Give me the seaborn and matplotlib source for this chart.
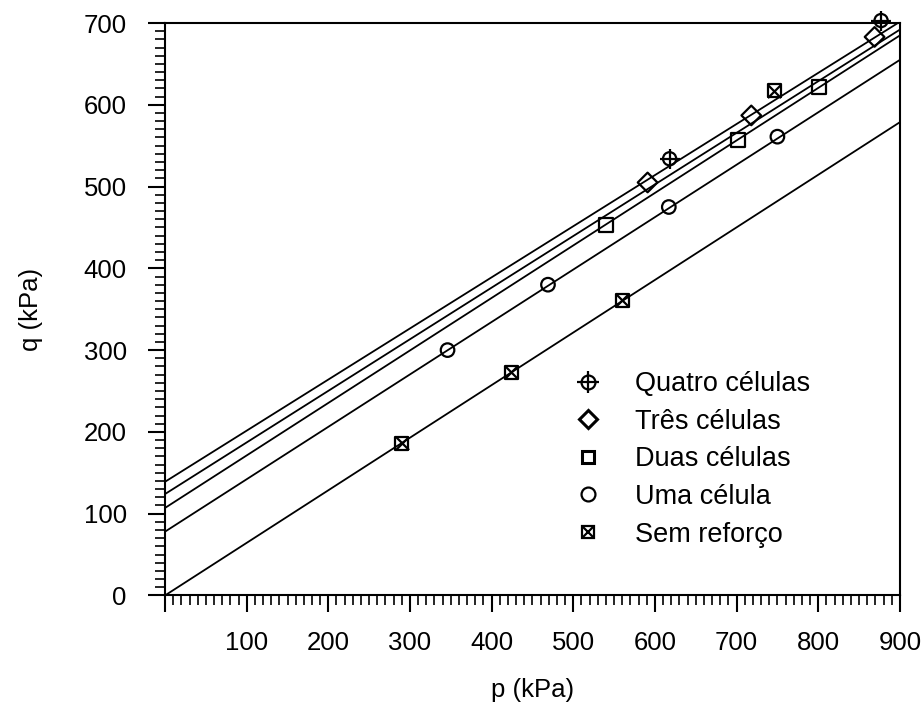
import numpy as np
import pandas as pd
import matplotlib
matplotlib.use("Agg")
import matplotlib.pyplot as plt
import seaborn as sns
from matplotlib.lines import Line2D
from matplotlib.ticker import MultipleLocator

sns.set_style("ticks", {"text.color": "black", "axes.labelcolor": "black",
                        "xtick.color": "black", "ytick.color": "black",
                        "axes.edgecolor": "black"})
plt.rcParams['font.family'] = ['Liberation Sans', 'DejaVu Sans']

# data
quatro_p = [618, 877]
quatro_q = [534, 703]
tres_p = [591, 718, 869]
tres_q = [505, 587, 683]
duas_p = [540, 702, 801]
duas_q = [453, 557, 622]
uma_p = [346, 469, 617, 750]
uma_q = [300, 380, 475, 561]
sem_p = [290, 424, 560, 746]
sem_q = [186, 273, 361, 617]

# envelope lines (intercept, slope)
names = ["Quatro células", "Três células", "Duas células", "Uma célula", "Sem reforço"]
intercepts = [139, 124, 107, 78, 0]
slopes = [0.625, 0.631, 0.642, 0.641, 0.643]

fs = 18.5

fig, ax = plt.subplots(figsize=(9.22, 7.08), dpi=100)
fig.subplots_adjust(left=0.179, right=0.976, bottom=0.159, top=0.9675)

for a, b in zip(intercepts, slopes):
    ax.axline((0, a), slope=b, color="black", lw=1.3, zorder=1)

hollow = dict(facecolors="none", edgecolor="black", linewidth=1.6, clip_on=False, zorder=3)
line_mk = dict(color="black", linewidth=1.6, clip_on=False, zorder=3)

# Quatro: circle with crosshair
sns.scatterplot(x=quatro_p, y=quatro_q, marker="o", s=90, ax=ax, **hollow)
sns.scatterplot(x=quatro_p, y=quatro_q, marker="+", s=220, ax=ax, **line_mk)
# Tres: diamond
sns.scatterplot(x=tres_p, y=tres_q, marker="D", s=100, ax=ax, **hollow)
# Duas: square
sns.scatterplot(x=duas_p, y=duas_q, marker="s", s=100, ax=ax, **hollow)
# Uma: circle
sns.scatterplot(x=uma_p, y=uma_q, marker="o", s=95, ax=ax, **hollow)
# Sem: square with x
sns.scatterplot(x=sem_p, y=sem_q, marker="s", s=90, ax=ax, **hollow)
sns.scatterplot(x=sem_p, y=sem_q, marker="x", s=90, ax=ax, **line_mk)

ax.set_xlim(0, 900)
ax.set_ylim(0, 700)
ax.set_xticks(range(0, 901, 100))
ax.set_xticklabels([""] + [str(v) for v in range(100, 901, 100)])
ax.set_yticks(range(0, 701, 100))
ax.xaxis.set_minor_locator(MultipleLocator(10))
ax.yaxis.set_minor_locator(MultipleLocator(10))
ax.tick_params(which="major", direction="out", length=12.5, width=1.5, labelsize=fs)
ax.tick_params(axis="x", which="major", pad=13)
ax.tick_params(axis="y", which="major", pad=15)
ax.tick_params(which="minor", direction="out", length=7, width=1.2)
for s in ax.spines.values():
    s.set_linewidth(1.5)
    s.set_visible(True)

ax.set_xlabel("p (kPa)", fontsize=fs, labelpad=17)
ax.set_ylabel("q (kPa)", fontsize=fs, labelpad=29)

handles = [
    (Line2D([], [], ls="", marker="o", ms=10, mfc="none", mec="black", mew=1.6),
     Line2D([], [], ls="", marker="+", ms=16, mec="black", mew=1.6)),
    Line2D([], [], ls="", marker="D", ms=9.5, mfc="none", mec="black", mew=2.2),
    Line2D([], [], ls="", marker="s", ms=9, mfc="none", mec="black", mew=2.2),
    Line2D([], [], ls="", marker="o", ms=10, mfc="none", mec="black", mew=1.6),
    (Line2D([], [], ls="", marker="s", ms=9, mfc="none", mec="black", mew=1.6),
     Line2D([], [], ls="", marker="x", ms=9, mec="black", mew=1.6)),
]
leg = ax.legend(handles, names, loc="upper left",
                bbox_to_anchor=(568 / 922, 1 - 371 / 708), bbox_transform=fig.transFigure,
                frameon=False, fontsize=19.5, handlelength=1.5, handletextpad=0.98,
                labelspacing=0.43, borderpad=0, borderaxespad=0)

fig.savefig("out.png", dpi=100)
